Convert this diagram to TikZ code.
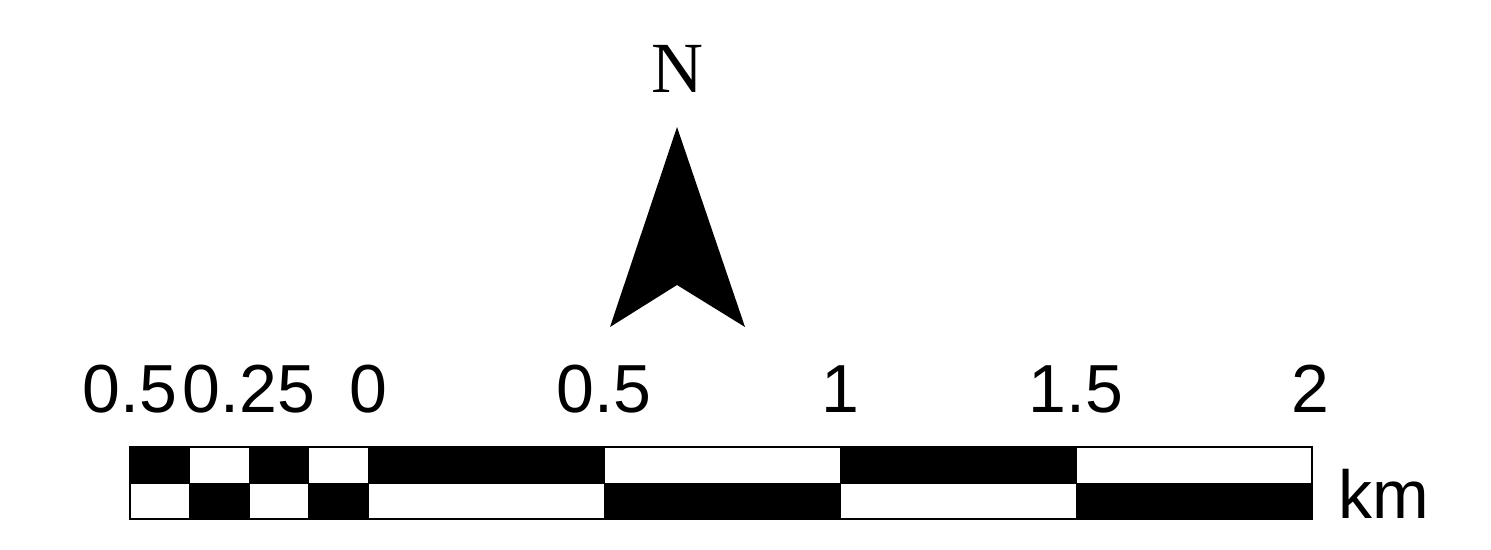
\documentclass[tikz,border=0pt]{standalone}
\usepackage{fontspec}
\setmainfont{Liberation Serif}
\newfontfamily\labelfont{Liberation Sans}
\tikzset{
  cell/.style={draw=black, line width=0.5pt},
  ticklabel/.style={anchor=base, inner sep=0pt, font=\labelfont\fontsize{34}{40}\selectfont},
}
\begin{document}
\begin{tikzpicture}[x=0.5pt,y=-0.5pt]
\useasboundingbox (0,0) rectangle (1491,550);

% scale bar cells
\foreach \xa/\xb/\ctop/\cbot in {130/189.5/black/white, 189.5/249/white/black,
  249/308.5/black/white, 308.5/368/white/black, 368/604/black/white,
  604/840/white/black, 840/1076/black/white, 1076/1312/white/black}{
\draw[cell, fill=\ctop] (\xa,447) rectangle (\xb,483);
\draw[cell, fill=\cbot] (\xa,483) rectangle (\xb,519);
}
\draw[line width=1pt] (130,447) rectangle (1312,519);

% labels
\foreach \x/\lab [count=\i] in {130/0.5, 249/0.25, 368/0, 604/0.5, 840/1, 1076/1.5, 1310/2}{
\node[ticklabel] (tick\i) at (\x,412) {\lab};
}
\node[ticklabel, anchor=base west] (unit) at (1338,518) {km};

% north arrow
\node[anchor=base, inner sep=0pt, font=\fontsize{36}{40}\selectfont] (north) at (677,93) {N};
\fill (677,127) -- (745,327) -- (677,285) -- (610,327) -- cycle;

\end{tikzpicture}
\end{document}
